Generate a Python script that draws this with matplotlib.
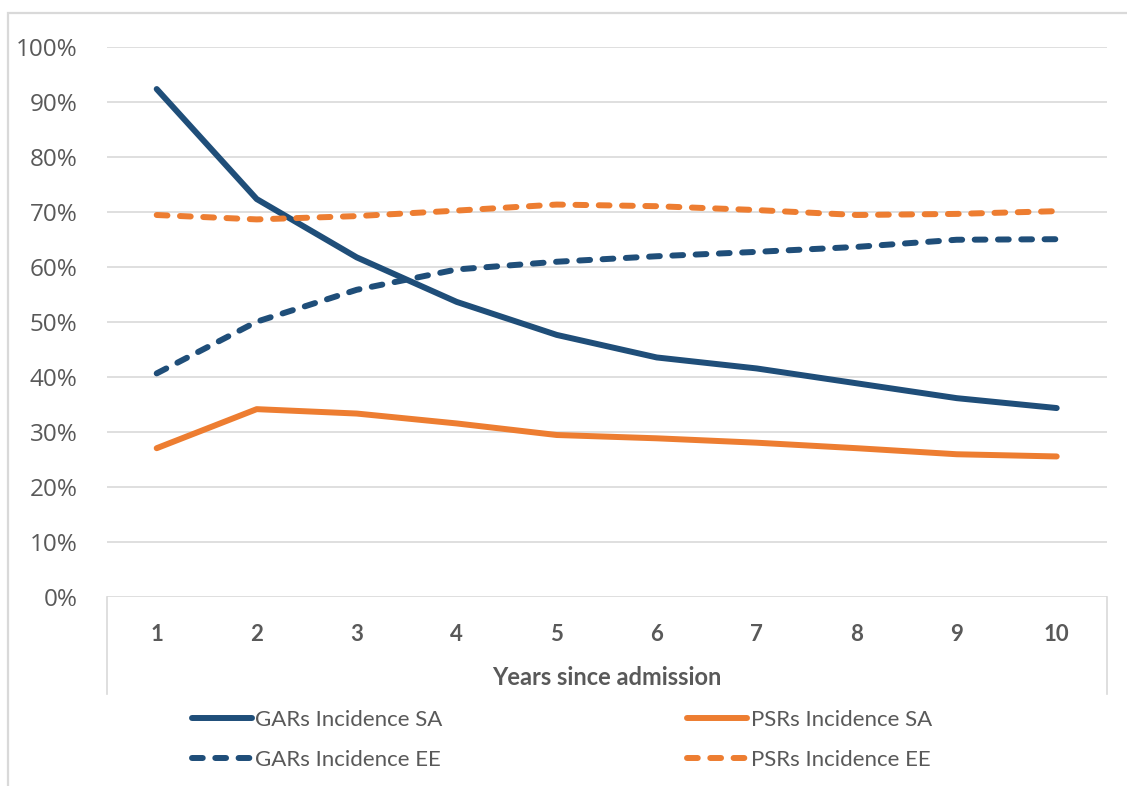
import matplotlib.pyplot as plt
from matplotlib.patches import Rectangle
from matplotlib.ticker import PercentFormatter

# données
years = [1, 2, 3, 4, 5, 6, 7, 8, 9, 10]
gars_sa = [0.923, 0.723, 0.617, 0.536, 0.476, 0.435, 0.415, 0.388, 0.361, 0.343]
gars_ee = [0.406, 0.500, 0.558, 0.595, 0.609, 0.619, 0.627, 0.636, 0.649, 0.650]
psrs_sa = [0.270, 0.341, 0.333, 0.315, 0.294, 0.288, 0.280, 0.270, 0.259, 0.255]
psrs_ee = [0.694, 0.686, 0.692, 0.702, 0.713, 0.710, 0.703, 0.694, 0.696, 0.701]

blue = '#1F4E79'
orange = '#ED7D31'
grid_col = '#D9D9D9'
txt_col = '#595959'

W, H = 1127, 786
fig = plt.figure(figsize=(W / 100, H / 100), dpi=100)
ax = fig.add_axes([106.7 / W, 1 - 596.7 / H, 1000 / W, 550 / H])

lw = 4.3
ax.plot(years, gars_sa, color=blue, lw=lw, solid_capstyle='round', solid_joinstyle='round', label='GARs Incidence SA', zorder=3)
ax.plot(years, gars_ee, color=blue, lw=lw, dashes=(1.8, 2.1), dash_capstyle='round', label='GARs Incidence EE', zorder=3)
ax.plot(years, psrs_sa, color=orange, lw=lw, solid_capstyle='round', solid_joinstyle='round', label='PSRs Incidence SA', zorder=3)
ax.plot(years, psrs_ee, color=orange, lw=lw, dashes=(1.8, 2.1), dash_capstyle='round', label='PSRs Incidence EE', zorder=3)

ax.set_xlim(0.5, 10.5)
ax.set_ylim(0, 1)
ax.set_yticks([i / 10 for i in range(11)])
ax.yaxis.set_major_formatter(PercentFormatter(1.0, decimals=0))
ax.set_xticks(years)
ax.grid(axis='y', color=grid_col, lw=1.2)
ax.set_axisbelow(True)
for s in ax.spines.values():
    s.set_visible(False)
ax.tick_params(axis='both', length=0)
ax.tick_params(axis='y', pad=21, labelsize=17.5, labelcolor=txt_col)
ax.tick_params(axis='x', pad=20, labelsize=16, labelcolor=txt_col)
for t in ax.get_yticklabels():
    t.set_fontfamily('Open Sans')
for t in ax.get_xticklabels():
    t.set_fontfamily('Lato')
    t.set_fontweight('bold')

ax.set_xlabel('Years since admission', fontsize=17, fontweight='bold', color=txt_col,
              fontfamily='Lato', labelpad=15)

# petit cadre sous l'axe des x (comme dans Excel)
for xa in (0, 1):
    ax.plot([xa, xa], [0, -0.177], transform=ax.transAxes, color=grid_col, lw=1.2, clip_on=False)

# cadre extérieur du graphique
fig.patches.append(Rectangle((8 / W, -0.1), 1.2, 1 - 13 / H + 0.1, transform=fig.transFigure,
                             fill=False, edgecolor=grid_col, lw=1.6))

h, l = ax.get_legend_handles_labels()
leg = fig.legend(h, l, loc='center', bbox_to_anchor=(562 / W, 1 - 740 / H), ncol=2, frameon=False,
                 handlelength=2.7, handletextpad=0.15, columnspacing=11.0, labelspacing=0.88,
                 borderpad=0, prop={'family': 'Lato', 'size': 16})
for t in leg.get_texts():
    t.set_color(txt_col)

fig.savefig('out.png', dpi=100)
